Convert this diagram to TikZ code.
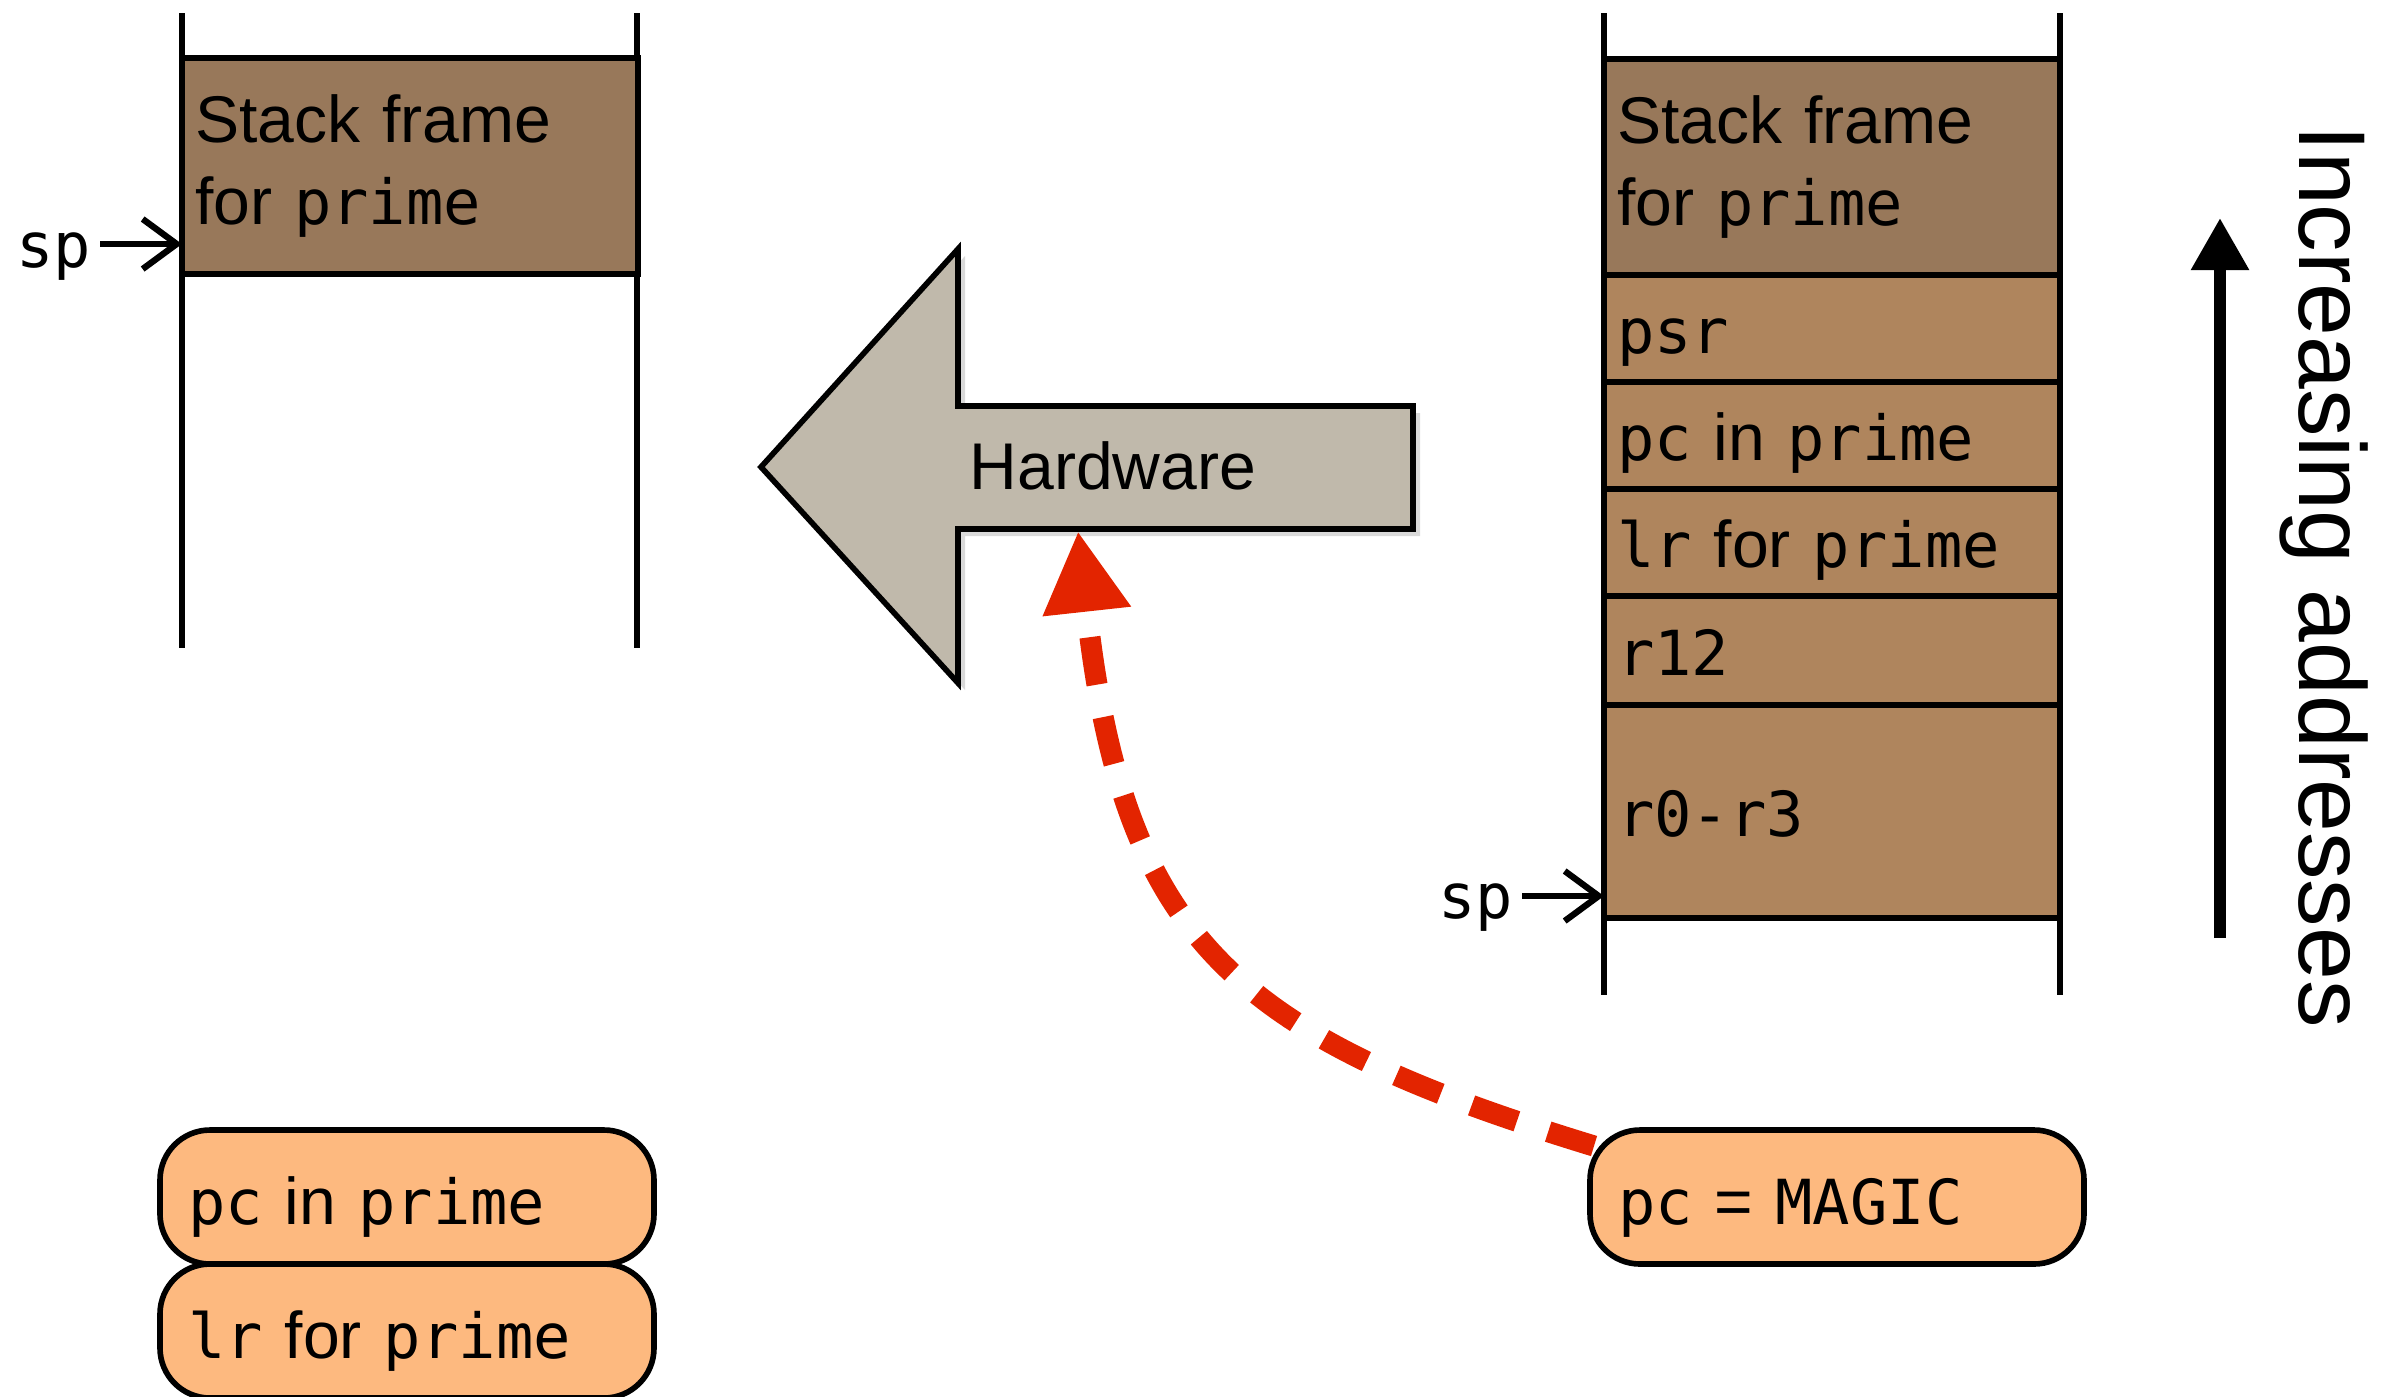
\documentclass[tikz,border=0pt]{standalone}
\usepackage{fontspec}
\setmainfont{Liberation Sans}
\newfontfamily\codefont[Scale=0.94]{DejaVu Sans Mono}
\newcommand{\code}[1]{{\codefont #1}}
\usepackage{tikz}
\usetikzlibrary{arrows.meta}
\usetikzlibrary{positioning}
\usetikzlibrary{shadows}

\definecolor{framebrown}{HTML}{98785A}
\definecolor{slotbrown}{HTML}{AF855D}
\definecolor{regorange}{HTML}{FDB97F}
\definecolor{hwgray}{HTML}{C0B9AB}
\definecolor{magicred}{HTML}{E32400}

\begin{document}
\begin{tikzpicture}[
    every node/.style={font=\fontsize{18.8pt}{23.3pt}\selectfont},
    cell/.style={draw, line width=1.6pt, rectangle, fill=slotbrown, minimum width=4.56cm, text width=4.3cm, align=left, inner xsep=0.13cm, outer sep=0pt},
    slot/.style={cell, minimum height=1.07cm, text height=0.62cm, text depth=0.12cm},
    framebox/.style={cell, fill=framebrown, minimum height=2.16cm},
    reg/.style={draw, line width=1.6pt, rounded corners=0.5cm, fill=regorange, minimum width=4.94cm, minimum height=1.34cm, text width=4.38cm, text height=0.66cm, text depth=0.12cm, align=left, inner xsep=0.28cm, outer sep=0pt},
    wall/.style={line width=1.6pt},
    pointer/.style={-{Straight Barb[length=0.34cm, width=0.5cm]}, line width=1.8pt},
    node distance=0pt
]

    \useasboundingbox (0,0) rectangle (24.02,-13.96);

    % Stack before the exception
    \draw[wall] ([yshift=0.45cm]1.82,-0.58) -- (1.82,-6.48);
    \draw[wall] ([yshift=0.45cm]6.37,-0.58) -- (6.37,-6.48);
    \node (frameL) [framebox, anchor=north west, minimum width=4.55cm] at (1.82,-0.58) {Stack frame\\for \code{prime}};

    % sp points into the frame
    \node (spL) [anchor=base east, inner xsep=0.08cm] at (1.0,-2.67) {\code{sp}};
    \coordinate (spLtip) at (1.82,-2.44);
    \draw[pointer] (spL.east |- spLtip) -- (spLtip);

    % Stack after the hardware has pushed the registers
    \node (frameR) [framebox, anchor=north west] at (16.04,-0.59) {Stack frame\\for \code{prime}};
    \node (psr) [slot, below=of frameR] {\code{psr}};
    \node (pcR) [slot, below=of psr] {\code{pc} in \code{prime}};
    \node (lrR) [slot, below=of pcR] {\code{lr} for \code{prime}};
    \node (rtwelve) [slot, below=of lrR, minimum height=1.09cm] {\code{r12}};
    \node (rlow) [slot, below=of rtwelve, minimum height=2.13cm] {\code{r0-r3}};

    \draw[wall] ([yshift=0.46cm]frameR.north west) -- ([yshift=-0.77cm]rlow.south west);
    \draw[wall] ([yshift=0.46cm]frameR.north east) -- ([yshift=-0.77cm]rlow.south east);

    \node (spR) [anchor=base east, inner xsep=0.08cm] at (15.22,-9.18) {\code{sp}};
    \coordinate (spRtip) at (16.04,-8.96);
    \draw[pointer] (spR.east |- spRtip) -- (spRtip);

    % Big arrow
    \draw[line width=1.6pt, fill=hwgray, drop shadow={shadow xshift=0.07cm, shadow yshift=-0.07cm, opacity=0.3}]
        (7.61,-4.67) -- (9.58,-2.49) -- (9.58,-4.06) -- (14.13,-4.06)
        -- (14.13,-5.29) -- (9.58,-5.29) -- (9.58,-6.83) -- cycle;
    \node (hw) [anchor=base west, inner sep=0pt] at (9.69,-4.89) {Hardware};
    \coordinate (hwbase) at (10.78,-5.31);

    % Registers
    \node (pcL) [reg, anchor=north west] at (1.60,-11.30) {\code{pc} in \code{prime}};
    \node (lrL) [reg, below=of pcL] {\code{lr} for \code{prime}};
    \node (magic) [reg, anchor=north west] at (15.90,-11.30) {\code{pc} = \code{MAGIC}};

    % MAGIC value triggers the return
    \draw[magicred, line width=6pt, dash pattern=on 0.48cm off 0.33cm, -{Triangle[length=0.81cm, width=0.83cm]}]
        ([shift={(0.04,-0.16)}]magic.north west) .. controls +(-3.585,1.095) and +(0.45,-4.10) .. (hwbase);

    % Direction of the stack
    \coordinate (upfoot) at (22.20,-9.38);
    \coordinate (uphead) at (22.20,-2.18);
    \draw[line width=3.4pt, -{Triangle[length=0.52cm, width=0.55cm]}] (upfoot) -- (uphead);
    \node (incr) [rotate=-90, anchor=base west, inner sep=0pt, font=\fontsize{27pt}{32pt}\selectfont] at (22.99,-1.25) {Increasing addresses};

\end{tikzpicture}
\end{document}
